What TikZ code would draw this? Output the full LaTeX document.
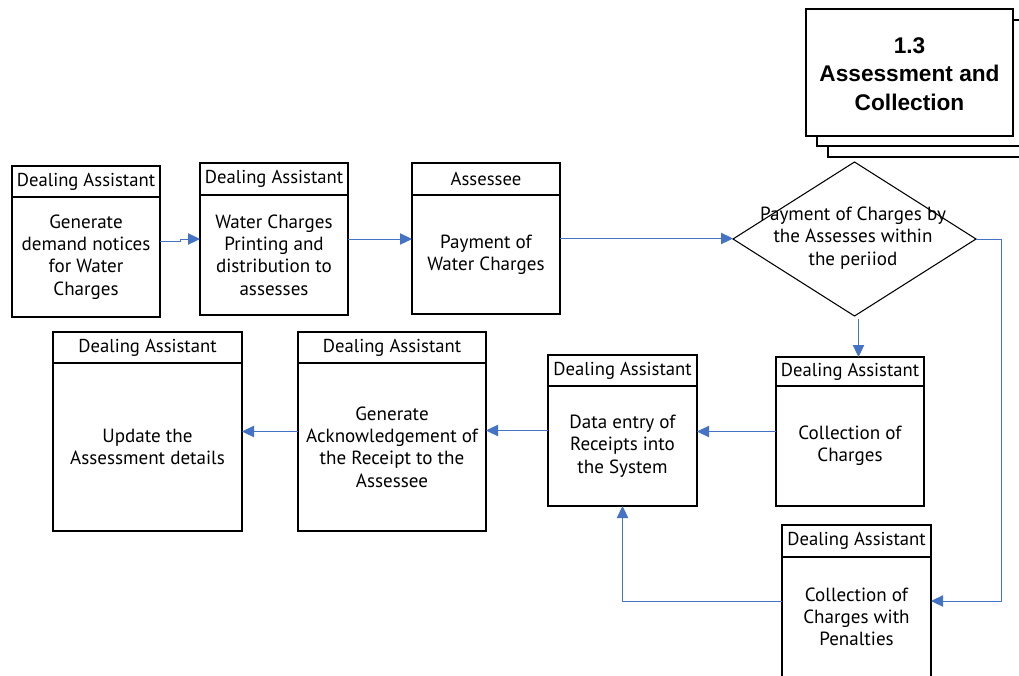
\documentclass[tikz,border=0pt]{standalone}
\usepackage{fontspec}
\setmainfont{PT Sans}
\newfontfamily\titlefont{Liberation Sans}
\usetikzlibrary{arrows.meta,shapes.geometric,fit}

\definecolor{flowblue}{HTML}{4472C4}

\tikzset{
  procbox/.style={draw=black, line width=1pt, inner sep=0pt, outer sep=0pt, fill=white},
  hdr/.style={inner sep=0pt, font=\fontsize{14}{16.5}\selectfont},
  bodytext/.style={inner sep=0pt, align=center, font=\fontsize{14.3}{16.7}\selectfont},
  flow/.style={draw=flowblue, line width=0.75pt, -{Triangle[length=9pt,width=8.5pt,color=flowblue]}},
  decision/.style={diamond, draw=black, line width=0.8pt, minimum width=182.25pt,
                   minimum height=115.5pt, inner sep=0pt, outer sep=0pt},
  stack/.style={draw=black, line width=1pt, fill=white},
  titletext/.style={inner sep=0pt, align=center,
                    font=\titlefont\bfseries\fontsize{17}{21.4}\selectfont},
}

% box with a header strip: name, left, top, right, bottom, divider, header, body
\newcommand\swimbox[8]{%
  \node[procbox, fit={(#2,#3) (#4,#5)}] (#1) {};
  \draw[line width=1pt] (#2,#6) -- (#4,#6);
  \node[hdr] (#1-h) at ({(#2+#4)/2},{(#3+#6)/2}) {#7};
  \node[bodytext] (#1-t) at ({(#2+#4)/2},{(#6+#5)/2}) {#8};
}

\begin{document}
\begin{tikzpicture}[x=0.75pt, y=-0.75pt]
  \useasboundingbox (0,0) rectangle (1019,675);
  \clip (0,0) rectangle (1019,675);

  % process title card, stacked
  \draw[stack] (828,31) rectangle (1035,157);
  \draw[stack] (817,20) rectangle (1024,146);
  \node[procbox, fit={(806,9) (1013,136)}] (title) {};
  \node[titletext] (title-t) at (909.5,74) {1.3\\Assessment and\\Collection};

  % top row
  \swimbox{gen}{12}{166}{160}{317}{197}{Dealing Assistant}{Generate\\demand notices\\for Water\\Charges}
  \swimbox{print}{200}{163}{348}{315}{195}{Dealing Assistant}{Water Charges\\Printing and\\distribution to\\assesses}
  \swimbox{pay}{412}{163}{560}{314}{195}{Assessee}{Payment of\\Water Charges}

  \node[decision] (dec) at (854.5,239) {};
  \node[bodytext] (dec-t) at (853,238) {Payment of Charges by\\the Assesses within\\the periiod};

  % lower row
  \swimbox{upd}{53}{332}{242}{531}{363}{Dealing Assistant}{Update the\\Assessment details}
  \swimbox{ack}{298}{332}{486}{531}{363}{Dealing Assistant}{Generate\\Acknowledgement of\\the Receipt to the\\Assessee}
  \swimbox{entry}{548}{355}{697}{506}{386}{Dealing Assistant}{Data entry of\\Receipts into\\the System}
  \swimbox{coll}{776}{357}{924}{506}{386}{Dealing Assistant}{Collection of\\Charges}
  \swimbox{pen}{782}{525}{931}{677}{557}{Dealing Assistant}{Collection of\\Charges with\\Penalties}

  % connectors
  \draw[flow] (gen.east) -- ++(20,0) |- (print.west);
  \draw[flow] (print.east) -- (print.east -| pay.west);
  \draw[flow] (pay.east) -- (pay.east -| dec.west);
  \draw[flow] ([xshift=3pt,yshift=-2pt]dec.south) -- ([xshift=3pt]dec.south |- coll.north);
  \draw[flow] (dec.east) -- ++(25,0) |- (pen.east);
  \draw[flow] (pen.west) -| (entry.south);
  \draw[flow] (coll.west) -- (coll.west -| entry.east);
  \draw[flow] (entry.west) -- (entry.west -| ack.east);
  \draw[flow] (ack.west) -- (ack.west -| upd.east);
\end{tikzpicture}
\end{document}
